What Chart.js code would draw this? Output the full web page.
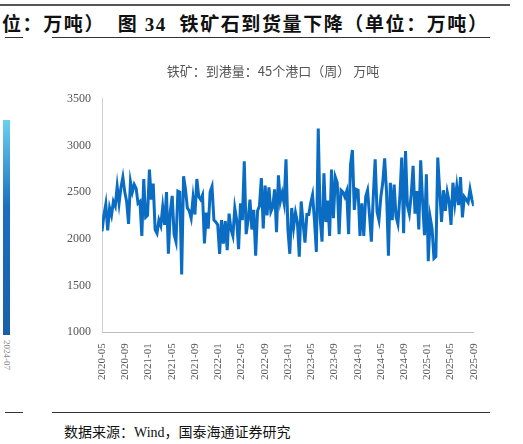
<!DOCTYPE html><html><head><meta charset="utf-8">
<script src="https://cdn.jsdelivr.net/npm/chart.js@4"></script>
<style>
body{margin:0;width:523px;height:444px;background:#fff;position:relative;overflow:hidden;font-family:"Liberation Serif","Noto Sans CJK SC",serif}
.t{position:absolute;white-space:nowrap}
</style></head><body>
<div style="position:absolute;left:0;top:4px;width:510px;height:2px;background:#555"></div>
<div class="t" style="left:2px;top:9px;font-size:19px;font-weight:bold;color:#111;letter-spacing:1.6px;font-family:'Liberation Serif','Noto Sans CJK SC'">位：万吨） &nbsp;图 34 &nbsp;铁矿石到货量下降（单位：万吨）</div>
<div style="position:absolute;left:5px;top:37px;width:18px;height:1px;background:#333"></div>
<div style="position:absolute;left:52px;top:37px;width:438px;height:1px;background:#333"></div>
<div style="position:absolute;left:3px;top:120px;width:7px;height:215px;background:linear-gradient(#6ad0f0,#1a70c0 40%,#1a5fa8)"></div>
<div class="t" style="top:340px;font-size:9px;color:#888;transform:rotate(90deg);transform-origin:left top;left:12px">2024-07</div>
<div style="position:absolute;left:5px;top:412px;width:18px;height:1px;background:#333"></div>
<div style="position:absolute;left:52px;top:412px;width:438px;height:1px;background:#333"></div>
<div class="t" style="left:64px;top:421px;font-size:14px;color:#111">数据来源：Wind，国泰海通证券研究</div>
<div style="position:absolute;left:50px;top:63px;width:440px;height:320px"><canvas id="c"></canvas></div>
<script>
const tickLabels=["2020-05","2020-09","2021-01","2021-05","2021-09","2022-01","2022-05","2022-09","2023-01","2023-05","2023-09","2024-01","2024-05","2024-09","2025-01","2025-05","2025-09"];
const values=[2080,2250,2370,2090,2330,2250,2400,2350,2560,2380,2550,2660,2500,2400,2160,2610,2500,2580,2540,2380,2400,2030,2640,2230,2250,2740,2420,2590,2100,2060,2200,2140,2340,2150,2500,1840,2290,2460,2050,1970,2510,2500,1620,2670,2530,2330,2300,2220,2440,2260,2640,2450,2420,2470,1950,2280,2110,2500,2560,2200,2180,2150,1840,2200,1950,2190,1880,2270,2100,2030,2330,2200,1890,2380,2200,2830,2050,2200,2420,2100,2310,1820,2300,2350,2650,2110,2570,2250,2550,2290,2340,2530,2070,2680,2400,2490,2380,2850,2100,1840,2330,2120,2280,2180,1810,2400,2170,1960,2260,2260,2380,2470,2200,1860,3180,2220,1970,2700,2180,2410,2030,2740,2220,2660,2600,2050,2520,2500,2450,2510,2050,2790,2950,2310,2530,2520,2030,2380,2030,2450,2520,2260,1970,2450,2850,2290,2200,2450,2600,2860,2500,1820,2600,2200,2580,2240,2160,2440,2870,2060,2940,2360,2270,2470,2780,2270,2510,2100,2840,2400,2040,2690,1760,2230,2110,1790,1810,2870,2520,2180,2520,2300,2500,2400,2150,2600,2380,2560,2360,2660,2230,2450,2420,2390,2530,2420,2350];
const n=values.length;
const pts=values.map((v,i)=>({x:i*64/(n-1),y:v}));
new Chart(document.getElementById('c'),{type:'line',
data:{datasets:[{data:pts,borderColor:'#0a6cc2',borderWidth:3,pointRadius:0,tension:0}]},
options:{responsive:true,maintainAspectRatio:false,animation:false,
layout:{padding:{left:14,right:8,top:0,bottom:0}},
plugins:{legend:{display:false},tooltip:{enabled:false},
title:{display:true,text:'铁矿：到港量：45个港口（周） 万吨',color:'#555',font:{family:'Noto Sans CJK SC',size:13,weight:'normal'},padding:{top:0,bottom:20}}},
scales:{x:{type:'linear',min:0,max:64,grid:{display:false},border:{color:'#bbb'},
ticks:{stepSize:4,autoSkip:false,maxRotation:90,minRotation:90,color:'#555',font:{family:'Liberation Serif',size:11},callback:v=>tickLabels[v/4]}},
y:{min:1000,max:3500,grid:{display:false},border:{color:'#ccc'},
ticks:{stepSize:500,color:'#555',font:{family:'Liberation Serif',size:12},callback:v=>String(v)}}}}});
</script></body></html>
